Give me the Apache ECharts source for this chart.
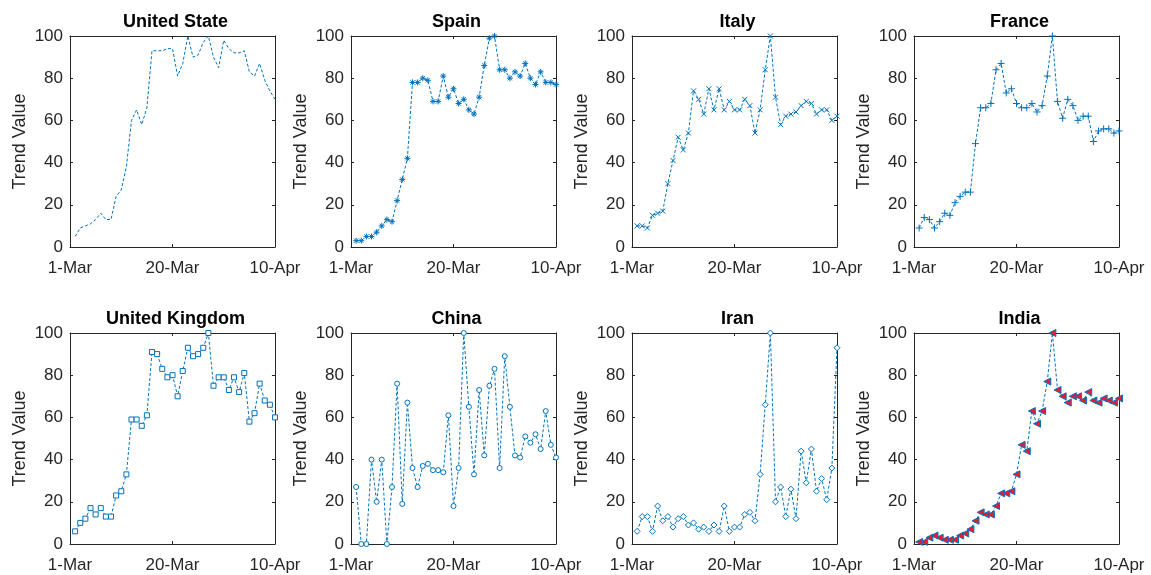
<!DOCTYPE html>
<html>
<head>
<meta charset="utf-8">
<script src="https://cdn.jsdelivr.net/npm/echarts@6/dist/echarts.min.js"></script>
<style>
html,body{margin:0;padding:0;background:#fff;}
#chart{width:1151px;height:575px;}
</style>
</head>
<body>
<div id="chart"></div>
<script>
// ---- data ----
const countries = ['United State', 'Spain', 'Italy', 'France', 'United Kingdom', 'China', 'Iran', 'India'];
const xTickLabels = ['1-Mar', '20-Mar', '10-Apr'];
const xTickValues = [0, 20, 40];
const yTicks = [0, 20, 40, 60, 80, 100];

const unitedState = [5, 9, 10, 11, 13, 16, 13, 13, 24, 27, 38, 60, 65, 58, 66, 93, 93, 93, 94, 94, 81, 87, 100, 90, 91, 97, 100, 90, 85, 98, 94, 92, 92, 93, 83, 81, 87, 79, 74, 70];
const spain = [3, 3, 5, 5, 7, 10, 13, 12, 22, 32, 42, 78, 78, 80, 79, 69, 69, 81, 71, 75, 68, 70, 65, 63, 71, 86, 99, 100, 84, 84, 80, 83, 81, 87, 80, 77, 83, 78, 78, 77];
const italy = [10, 10, 9, 15, 16, 17, 30, 41, 52, 46, 54, 74, 70, 63, 75, 65, 75, 65, 69, 65, 65, 70, 67, 54, 65, 84, 100, 71, 58, 62, 63, 64, 67, 69, 68, 63, 65, 65, 60, 62];
const france = [9, 14, 13, 9, 12, 16, 15, 21, 24, 26, 26, 49, 66, 66, 68, 84, 87, 73, 75, 68, 66, 66, 68, 64, 67, 81, 100, 69, 61, 70, 67, 60, 62, 62, 50, 55, 56, 56, 54, 55];
const unitedKingdom = [6, 10, 12, 17, 14, 17, 13, 13, 23, 25, 33, 59, 59, 56, 61, 91, 90, 83, 79, 80, 70, 82, 93, 89, 90, 93, 100, 75, 79, 79, 73, 79, 72, 81, 58, 62, 76, 68, 66, 60];
const china = [27, 0, 0, 40, 20, 40, 0, 27, 76, 19, 67, 36, 27, 37, 38, 35, 35, 34, 61, 18, 36, 100, 65, 33, 73, 42, 75, 83, 36, 89, 65, 42, 41, 51, 48, 52, 45, 63, 47, 41];
const iran = [6, 13, 13, 6, 18, 11, 13, 8, 12, 13, 9, 10, 7, 8, 6, 9, 6, 18, 6, 8, 8, 14, 15, 11, 33, 66, 100, 20, 27, 13, 26, 12, 44, 29, 45, 25, 31, 21, 36, 93];
const india = [1, 1, 3, 4, 3, 2, 2, 2, 4, 5, 7, 11, 15, 14, 14, 18, 24, 24, 25, 33, 47, 44, 63, 57, 63, 77, 100, 73, 70, 67, 70, 70, 68, 72, 68, 67, 69, 68, 67, 69];

const seriesValues = [unitedState, spain, italy, france, unitedKingdom, china, iran, india];

// ---- styling ----
const BLUE = '#0072BD';
const AXC = '#262626';
const FONT = '"Liberation Sans", Arial, Helvetica, sans-serif';

const markers = [
  {symbol: 'none'},
  {symbol: 'path://M5,0L5,10M0,5L10,5M1.5,1.5L8.5,8.5M8.5,1.5L1.5,8.5', size: 6, fill: 'none'},
  {symbol: 'path://M0,0L10,10M10,0L0,10', size: 5, fill: 'none'},
  {symbol: 'path://M5,0L5,10M0,5L10,5', size: 7, fill: 'none'},
  {symbol: 'rect', size: 5, fill: '#fff'},
  {symbol: 'circle', size: 5, fill: '#fff'},
  {symbol: 'path://M5,0L10,5L5,10L0,5Z', size: 6, fill: '#fff'},
  {symbol: 'path://M10,0L0,5L10,10Z', size: 7, fill: '#F0182D'}
];

const lefts = [70, 351, 632, 914];
const tops = [36, 333];
const W = 205, H = 211;

const grids = [], xAxes = [], yAxes = [], series = [], titles = [];
const xLabelMap = {};
xTickValues.forEach((v, i) => { xLabelMap[v] = xTickLabels[i]; });

for (let k = 0; k < 8; k++) {
  const r = Math.floor(k / 4), c = k % 4;
  grids.push({left: lefts[c], top: tops[r], width: W, height: H, show: false});
  titles.push({
    text: countries[k],
    left: lefts[c] + W / 2 - 2,
    top: tops[r] - 28,
    textAlign: 'center',
    textStyle: {fontFamily: FONT, fontSize: 18, fontWeight: 'bold', color: '#000'}
  });
  const common = {
    type: 'value', min: 0, max: 40, interval: 20, gridIndex: k,
    axisLine: {show: true, onZero: false, lineStyle: {color: AXC, width: 1}},
    axisTick: {show: true, inside: true, length: 3, lineStyle: {color: AXC}},
    splitLine: {show: false}
  };
  xAxes.push(Object.assign({}, common, {
    position: 'bottom',
    axisLabel: {show: true, fontFamily: FONT, fontSize: 17, color: AXC, margin: 13,
      formatter: v => xLabelMap[v] !== undefined ? xLabelMap[v] : ''}
  }));
  xAxes.push(Object.assign({}, common, {position: 'top', axisLabel: {show: false}}));
  const ycommon = {
    type: 'value', min: 0, max: 100, interval: 20, gridIndex: k,
    axisLine: {show: true, onZero: false, lineStyle: {color: AXC, width: 1}},
    axisTick: {show: true, inside: true, length: 3, lineStyle: {color: AXC}},
    splitLine: {show: false}
  };
  yAxes.push(Object.assign({}, ycommon, {
    position: 'left',
    name: 'Trend Value', nameLocation: 'middle', nameGap: 41, nameRotate: 90,
    nameTextStyle: {fontFamily: FONT, fontSize: 18, color: AXC},
    axisLabel: {show: true, fontFamily: FONT, fontSize: 17, color: AXC, margin: 7, padding: [7, 0, 0, 0]}
  }));
  yAxes.push(Object.assign({}, ycommon, {position: 'right', axisLabel: {show: false}}));

  const m = markers[k];
  const s = {
    type: 'line',
    xAxisIndex: 2 * k, yAxisIndex: 2 * k,
    data: seriesValues[k].map((v, i) => [i + 1, v]),
    lineStyle: {color: BLUE, width: 1, type: [3, 2]},
    symbol: m.symbol === 'none' ? 'none' : m.symbol,
    showSymbol: m.symbol !== 'none',
    symbolSize: m.size || 0,
    itemStyle: {color: m.fill || BLUE, borderColor: BLUE, borderWidth: 1},
    emphasis: {disabled: true},
    silent: true,
    z: 3
  };
  series.push(s);
}

const chart = echarts.init(document.getElementById('chart'), null, {renderer: 'canvas'});
chart.setOption({
  animation: false,
  backgroundColor: '#fff',
  title: titles,
  grid: grids,
  xAxis: xAxes,
  yAxis: yAxes,
  series: series
});
</script>
</body>
</html>
